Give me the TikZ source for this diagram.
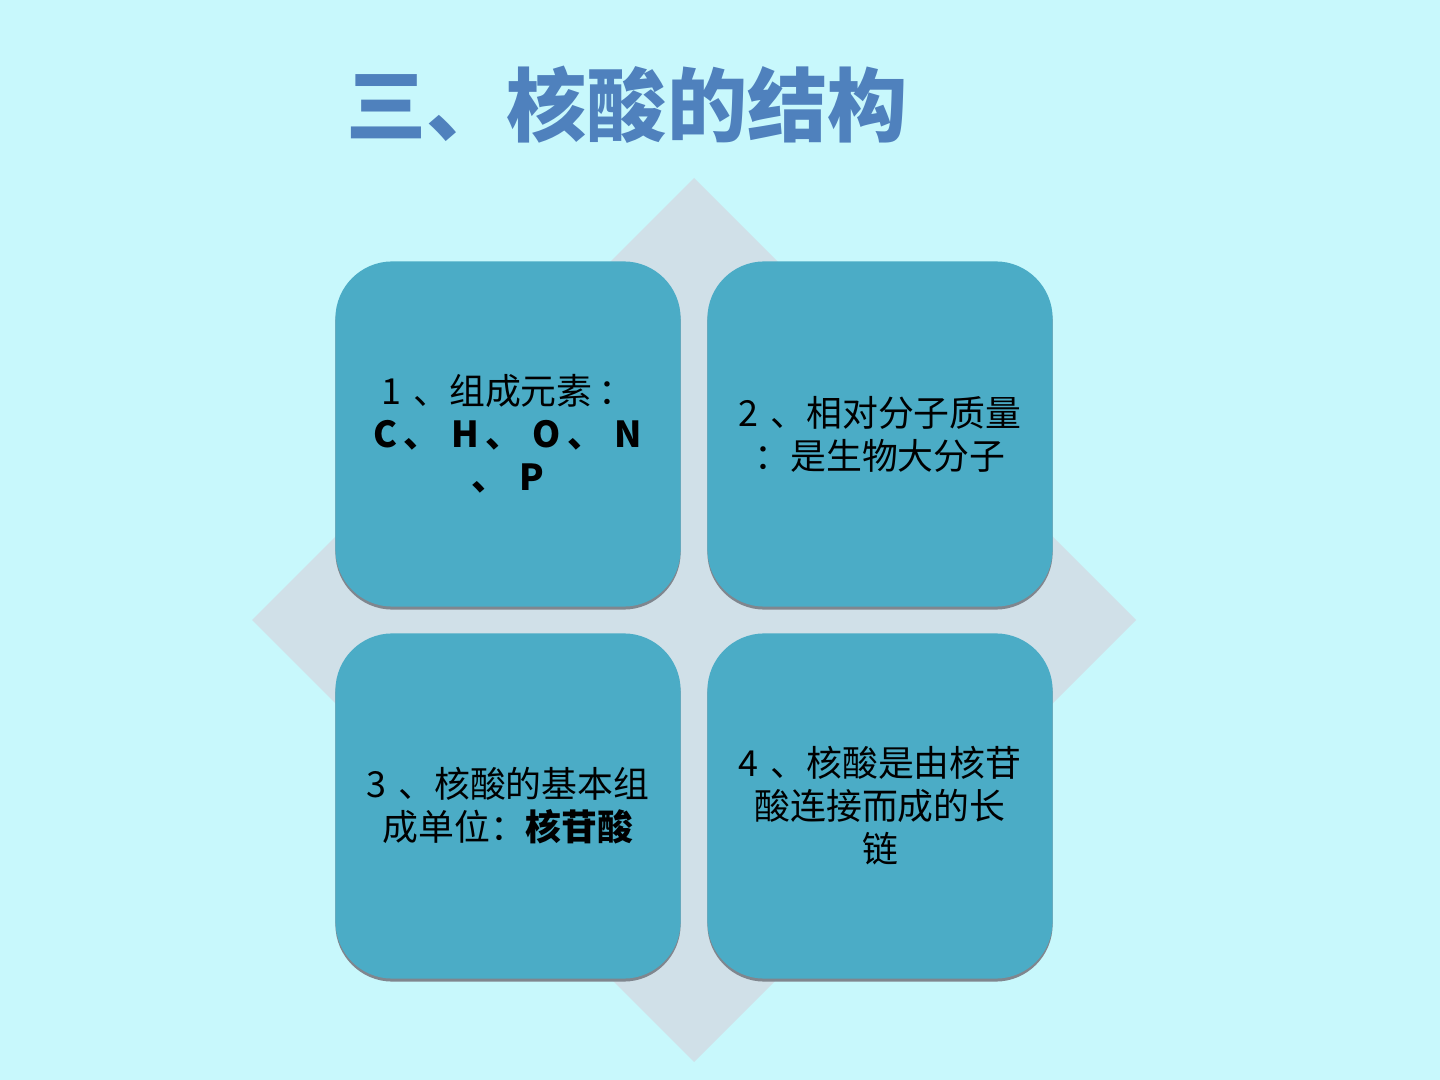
\documentclass[tikz,border=0pt]{standalone}
\usepackage{fontspec}
\setmainfont{Noto Sans CJK SC}
\usetikzlibrary{shadows}
\definecolor{bgcyan}{RGB}{200,248,252}
\definecolor{diamondgray}{RGB}{208,224,232}
\definecolor{boxblue}{RGB}{75,172,198}
\definecolor{titleblue}{RGB}{79,129,189}
\definecolor{shadowgray}{RGB}{128,134,142}
\begin{document}
\begin{tikzpicture}[x=0.01cm, y=-0.01cm,
  title/.style={text=titleblue, font=\fontsize{22.8}{26}\selectfont\bfseries, inner sep=0pt},
  card/.style={fill=boxblue, rounded corners=0.57cm, minimum width=3.45cm, minimum height=3.45cm,
    inner sep=0pt, text width=3.3cm, align=center, font=\fontsize{10.2}{12.2}\selectfont,
    drop shadow={shadow xshift=0cm, shadow yshift=-0.03cm, opacity=1, fill=shadowgray}}]
%background:
\fill[bgcyan] (0,0) rectangle (1440,1080);
\useasboundingbox (0,0) rectangle (1440,1080);
%title:
\node[title] (title) at (627,105) {三、核酸的结构};
%diamond behind the cards:
\fill[diamondgray] (694,178) -- (1136,620) -- (694,1062) -- (252,620) -- cycle;
%cards:
\node[card] (elements) at (508,434) {1 、组成元素\,：\\ \textbf{C\,、 H\,、 O\,、 N}\\ \textbf{、 P}};
\node[card] (mass) at (880,434) {2 、相对分子质量\\：是生物大分子};
\node[card] (unit) at (508,806) {3 、核酸的基本组\\成单位：\textbf{核苷酸}};
\node[card] (chain) at (880,806) {4 、核酸是由核苷\\酸连接而成的长\\链};
\end{tikzpicture}
\end{document}
